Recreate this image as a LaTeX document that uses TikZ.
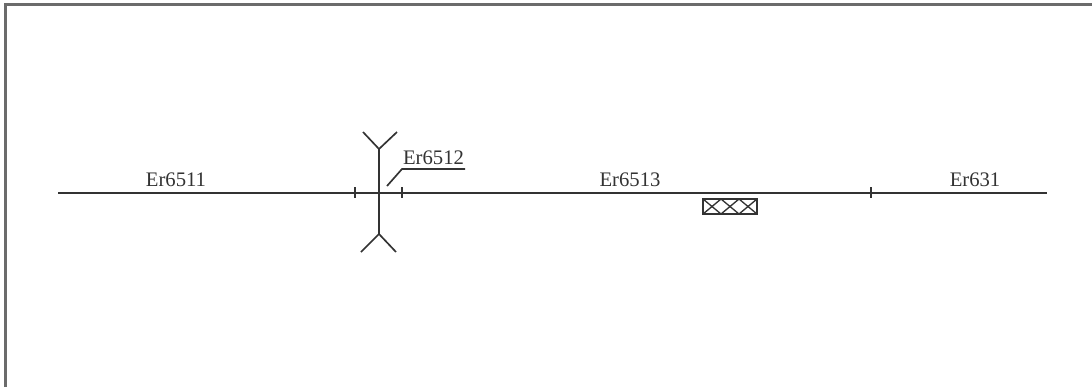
\documentclass[tikz,border=0pt]{standalone}
\usepackage{fontspec}
\setmainfont{Liberation Serif}
\definecolor{ink}{gray}{0.2}
\tikzset{
  wire/.style={draw=ink,line width=1.5pt},
  thin wire/.style={draw=ink,line width=1.25pt},
  lab/.style={text=ink,font=\fontsize{15.5pt}{17pt}\selectfont,inner sep=0pt},
  frameline/.style={draw=black!58,line width=1.9pt}
}
\begin{document}
\begin{tikzpicture}[x=0.75pt,y=-0.75pt]
\useasboundingbox (0,0) rectangle (1092,387);
\fill[white] (0,0) rectangle (1092,387);
\coordinate (fa) at (5.5,387);
\coordinate (fb) at (5.5,4.5);
\coordinate (fc) at (1092,4.5);
\draw[frameline] (fa) -- (fb) -- (fc);
% main line
\coordinate (l) at (58,193);
\coordinate (r) at (1047,193);
\draw[wire] (l) -- (r);
% ticks
\foreach \x in {355,402,871}{\draw[thin wire] (\x,187) -- (\x,198);}
% crossing
\coordinate (vt) at (379,149);
\coordinate (vb) at (379,234);
\draw[wire] (vt) -- (vb);
\coordinate (tl) at (363,132);
\coordinate (tr) at (397,132);
\coordinate (bl) at (361,252);
\coordinate (br) at (396,252);
\draw[thin wire] (tl) -- (vt) -- (tr);
\draw[thin wire] (bl) -- (vb) -- (br);
% leader
\coordinate (a) at (387,186);
\coordinate (b) at (402,169);
\coordinate (c) at (465,169);
\draw[thin wire] (a) -- (b) -- (c);
% labels
\node[lab] (e1) at (176,180) {Er6511};
\node[lab] (e2) at (433.5,158) {Er6512};
\node[lab] (e3) at (630,180) {Er6513};
\node[lab] (e4) at (975,180) {Er631};
% hatched box
\draw[draw=ink,line width=1.4pt] (703,199) rectangle (757,214);
\begin{scope}
\clip (703,199) rectangle (757,214);
\foreach \x in {703,721,739}{
  \draw[draw=ink,line width=1pt] (\x,199) -- (\x+18,214);
  \draw[draw=ink,line width=1pt] (\x,214) -- (\x+18,199);
}
\end{scope}
\end{tikzpicture}
\end{document}
